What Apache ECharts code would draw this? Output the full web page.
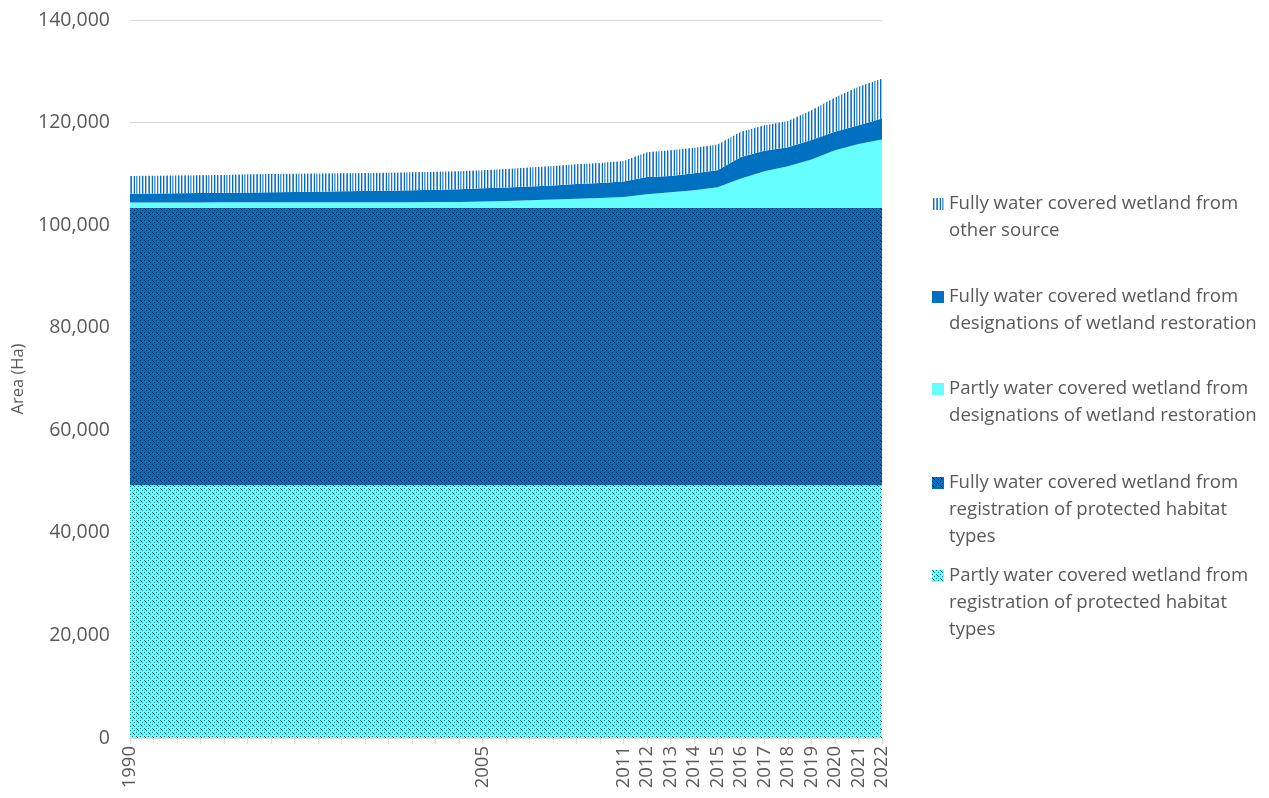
<!DOCTYPE html>
<html>
<head>
<meta charset="utf-8">
<title>Wetland area</title>
<script src="https://cdn.jsdelivr.net/npm/echarts@6/dist/echarts.min.js"></script>
<style>
  html, body { margin: 0; padding: 0; background: #ffffff; }
  #chart { width: 1269px; height: 798px; }
</style>
</head>
<body>
<div id="chart"></div>
<script>
// Years on the horizontal axis
const years = [];
for (let y = 1990; y <= 2022; y++) years.push(String(y));

// Only these years carry a label
const labelledYears = ['1990', '2005', '2011', '2012', '2013', '2014', '2015', '2016',
  '2017', '2018', '2019', '2020', '2021', '2022'];

// Series names (stack order, bottom to top)
const seriesNames = [
  'Partly water covered wetland from registration of protected habitat types',
  'Fully water covered wetland from registration of protected habitat types',
  'Partly water covered wetland from designations of wetland restoration',
  'Fully water covered wetland from designations of wetland restoration',
  'Fully water covered wetland from other source'
];

// Wrapped legend text for each series
const legendText = [
  'Partly water covered wetland from\nregistration of protected habitat\ntypes',
  'Fully water covered wetland from\nregistration of protected habitat\ntypes',
  'Partly water covered wetland from\ndesignations of wetland restoration',
  'Fully water covered wetland from\ndesignations of wetland restoration',
  'Fully water covered wetland from\nother source'
];

// Area in hectares, 1990..2022
const partlyRegistration = [
  49300, 49300, 49300, 49300, 49300, 49300, 49300, 49300, 49300, 49300, 49300,
  49300, 49300, 49300, 49300, 49300, 49300, 49300, 49300, 49300, 49300, 49300,
  49300, 49300, 49300, 49300, 49300, 49300, 49300, 49300, 49300, 49300, 49300
];
const fullyRegistration = [
  54100, 54100, 54100, 54100, 54100, 54100, 54100, 54100, 54100, 54100, 54100,
  54100, 54100, 54100, 54100, 54100, 54100, 54100, 54100, 54100, 54100, 54100,
  54100, 54100, 54100, 54100, 54100, 54100, 54100, 54100, 54100, 54100, 54100
];
const partlyRestoration = [
  1000, 1000, 1000, 1000, 1050, 1050, 1050, 1050, 1050, 1050, 1050,
  1050, 1050, 1100, 1100, 1200, 1300, 1450, 1600, 1750, 1900, 2100,
  2600, 3000, 3400, 4000, 5700, 7100, 8100, 9400, 11200, 12400, 13300
];
const fullyRestoration = [
  1700, 1750, 1800, 1850, 1850, 1900, 1950, 2000, 2050, 2150, 2200,
  2250, 2350, 2400, 2500, 2600, 2650, 2700, 2750, 2850, 2900, 3000,
  3400, 3200, 3300, 3300, 4200, 4000, 3700, 3800, 3600, 3700, 4100
];
const fullyOther = [
  3500, 3500, 3500, 3500, 3500, 3550, 3550, 3550, 3550, 3500, 3500,
  3500, 3500, 3500, 3500, 3500, 3600, 3700, 3800, 3850, 3900, 4000,
  4800, 5000, 5000, 5000, 4900, 5000, 5100, 5800, 6700, 7500, 7800
];

const yTicks = { min: 0, max: 140000, interval: 20000 };

// ---- fill textures ----
function makeTile(w, h, draw) {
  const c = document.createElement('canvas');
  c.width = w; c.height = h;
  draw(c.getContext('2d'));
  return c;
}

function dottedTile(base, dot, accent) {
  return makeTile(8, 8, function (g) {
    g.fillStyle = base; g.fillRect(0, 0, 8, 8);
    g.fillStyle = dot;
    [[0, 0], [4, 0], [2, 2], [6, 2], [0, 4], [4, 4], [2, 6], [6, 6]].forEach(function (p) {
      g.fillRect(p[0], p[1], 1, 1);
    });
    g.fillStyle = accent;
    [[1, 1], [5, 5]].forEach(function (p) { g.fillRect(p[0], p[1], 1, 1); });
  });
}

function stripeTile() {
  const cols = ['#ffffff', '#0070c0', '#9dc3e6', '#ffffff', '#5b9bd5', '#2e75b6',
    '#ffffff', '#bdd7ee', '#0070c0', '#ffffff', '#5b9bd5', '#9dc3e6',
    '#ffffff', '#2e75b6', '#bdd7ee', '#ffffff', '#0070c0', '#9dc3e6'];
  return makeTile(cols.length, 4, function (g) {
    cols.forEach(function (c, i) { g.fillStyle = c; g.fillRect(i, 0, 1, 4); });
  });
}

const fills = [
  { image: dottedTile('#66ffff', '#1a7f88', '#000000'), repeat: 'repeat' },
  { image: dottedTile('#0070c0', '#002a55', '#000000'), repeat: 'repeat' },
  '#66ffff',
  '#0070c0',
  { image: stripeTile(), repeat: 'repeat' }
];
const iconFills = ['#3fd6dc', '#00508f', '#66ffff', '#0070c0', '#5b9bd5'];

const seriesData = [partlyRegistration, fullyRegistration, partlyRestoration,
  fullyRestoration, fullyOther];

const font = '"Open Sans", "Noto Sans", sans-serif';
const textGrey = '#595959';

// one legend block per series, top to bottom; icon lines up with the first text line
const legendTops = [204, 297, 389, 483, 576];
const legendOrder = [4, 3, 2, 1, 0];
const lineH = 27;
const legends = legendOrder.map(function (si, k) {
  const lines = legendText[si].split('\n').length;
  const padded = '\n'.repeat(lines - 1) + legendText[si];
  const total = lines * 2 - 1;
  return {
    show: true,
    left: 932,
    top: legendTops[k] - total * lineH / 2,
    padding: 0,
    orient: 'vertical',
    icon: 'rect',
    itemWidth: 12,
    itemHeight: 12,
    itemGap: 0,
    selectedMode: false,
    data: [{ name: seriesNames[si], itemStyle: { color: fills[si] } }],
    formatter: function () { return padded; },
    textStyle: { fontFamily: font, fontSize: 18.6, color: textGrey, lineHeight: lineH }
  };
});

const chart = echarts.init(document.getElementById('chart'), null, { renderer: 'canvas' });

chart.setOption({
  animation: false,
  backgroundColor: '#ffffff',
  grid: { left: 130, right: 387, top: 20, bottom: 60, containLabel: false },
  legend: legends,
  xAxis: {
    type: 'category',
    data: years,
    boundaryGap: false,
    axisLine: { show: true, lineStyle: { color: '#d9d9d9', width: 1 } },
    axisTick: { show: true, interval: 0, length: 6, lineStyle: { color: '#d9d9d9' } },
    axisLabel: {
      interval: function (i, v) { return labelledYears.indexOf(v) >= 0; },
      rotate: 90,
      margin: 8,
      fontFamily: font,
      fontSize: 18.5,
      color: textGrey
    },
    splitLine: { show: false }
  },
  yAxis: {
    type: 'value',
    min: yTicks.min,
    max: yTicks.max,
    interval: yTicks.interval,
    name: 'Area (Ha)',
    nameLocation: 'middle',
    nameRotate: 90,
    nameGap: 102,
    nameTextStyle: { fontFamily: font, fontSize: 16.5, color: textGrey },
    axisLine: { show: false },
    axisTick: { show: false },
    axisLabel: {
      margin: 20,
      fontFamily: font,
      fontSize: 19.5,
      color: textGrey,
      formatter: function (v) { return v.toLocaleString('en-US'); }
    },
    splitLine: { show: true, lineStyle: { color: '#d9d9d9', width: 1 } }
  },
  series: seriesNames.map(function (name, i) {
    return {
      name: name,
      type: 'line',
      stack: 'area',
      data: seriesData[i],
      symbol: 'none',
      showSymbol: false,
      lineStyle: { width: 0 },
      itemStyle: { color: iconFills[i] },
      areaStyle: { color: fills[i], opacity: 1 },
      z: 2
    };
  })
});
</script>
</body>
</html>
